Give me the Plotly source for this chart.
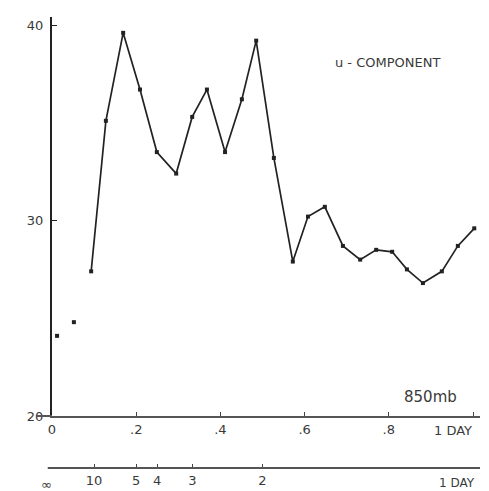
import plotly.graph_objects as go

freq = [0.012, 0.052, 0.093, 0.128, 0.169, 0.209, 0.249, 0.295, 0.333, 0.368,
        0.411, 0.451, 0.485, 0.527, 0.572, 0.608, 0.648, 0.691, 0.732, 0.770,
        0.808, 0.843, 0.881, 0.926, 0.964, 1.003]
u_vals = [24.1, 24.8, 27.4, 35.1, 39.6, 36.7, 33.5, 32.4, 35.3, 36.7,
          33.5, 36.2, 39.2, 33.2, 27.9, 30.2, 30.7, 28.7, 28.0, 28.5,
          28.4, 27.5, 26.8, 27.4, 28.7, 29.6]
n_isolated = 2  # first points drawn without connecting line

y_ticks = [20, 30, 40]
x_ticks = [0, 0.2, 0.4, 0.6, 0.8, 1.0]
x_ticktext = ["0", ".2", ".4", ".6", ".8", ""]
period_days = [10, 5, 4, 3, 2]
period_text = ["10", "5", "4", "3", "2"]

INK = "#222222"
TXT = "#3a3a3a"
FONT = "DejaVu Sans"

fig = go.Figure()
fig.add_trace(go.Scatter(
    x=freq[:n_isolated], y=u_vals[:n_isolated], mode="markers",
    marker=dict(symbol="square", size=4, color=INK),
    showlegend=False, hoverinfo="skip"))
fig.add_trace(go.Scatter(
    x=freq[n_isolated:], y=u_vals[n_isolated:], mode="lines+markers",
    line=dict(color=INK, width=1.7),
    marker=dict(symbol="square", size=4, color=INK),
    showlegend=False, hoverinfo="skip"))
# invisible trace so the period axis is drawn
fig.add_trace(go.Scatter(x=[0.5], y=[30], xaxis="x2", mode="markers",
                         marker=dict(opacity=0), showlegend=False, hoverinfo="skip"))

fig.update_layout(
    width=489, height=491,
    margin=dict(l=44, r=17, t=9, b=31),
    paper_bgcolor="white", plot_bgcolor="white",
    font=dict(family=FONT, color=TXT),
    xaxis=dict(range=[0, 1.0166], showgrid=False, zeroline=False,
               showline=True, linecolor="#555555", linewidth=2,
               tickvals=x_ticks, ticktext=x_ticktext,
               ticks="inside", ticklen=4, tickcolor="#444444",
               tickfont=dict(size=13, color=TXT), ticklabelstandoff=0,
               anchor="y", automargin=False),
    xaxis2=dict(range=[0, 1.0166], overlaying="x", anchor="free", position=0,
                side="bottom", showgrid=False, zeroline=False,
                showline=True, linecolor="#555555", linewidth=2,
                tickvals=[1.0 / p for p in period_days], ticktext=period_text,
                ticks="inside", ticklen=3, tickcolor="#444444",
                tickfont=dict(size=13, color=TXT), ticklabelstandoff=0,
                automargin=False),
    yaxis=dict(domain=[0.1153, 1], range=[20, 40.41], showgrid=False,
               zeroline=False, showline=True, linecolor=INK, linewidth=2,
               tickvals=y_ticks, ticks="inside", ticklen=5, tickcolor=INK,
               tickfont=dict(size=13, color=TXT), ticklabelstandoff=4,
               automargin=False),
)

fig.add_shape(type="line", xref="paper", yref="paper",
              x0=-0.035, x1=0, y0=0.1153, y1=0.1153,
              line=dict(color="#555555", width=2))
fig.add_shape(type="line", xref="paper", yref="paper",
              x0=-0.01, x1=0, y0=0, y1=0,
              line=dict(color="#555555", width=2))

fig.add_annotation(x=0.796, y=38.06, xref="x", yref="y", text="u - COMPONENT",
                   showarrow=False, font=dict(size=13, color=TXT))
fig.add_annotation(x=0.898, y=20.95, xref="x", yref="y", text="850mb",
                   showarrow=False, font=dict(size=15, color=TXT))
fig.add_annotation(x=1.003, y=0.084, xref="x", yref="paper", text="1 DAY",
                   xanchor="right", yanchor="middle", showarrow=False,
                   font=dict(size=13, color=TXT))
fig.add_annotation(x=-0.03, y=-0.036, xref="paper", yref="paper", text="∞",
                   yanchor="middle", showarrow=False, font=dict(size=13, color=TXT))
fig.add_annotation(x=1.01, y=-0.034, xref="x", yref="paper", text="1 DAY",
                   xanchor="right", yanchor="middle", showarrow=False,
                   font=dict(size=12, color=TXT))

fig.write_html("out.html")
